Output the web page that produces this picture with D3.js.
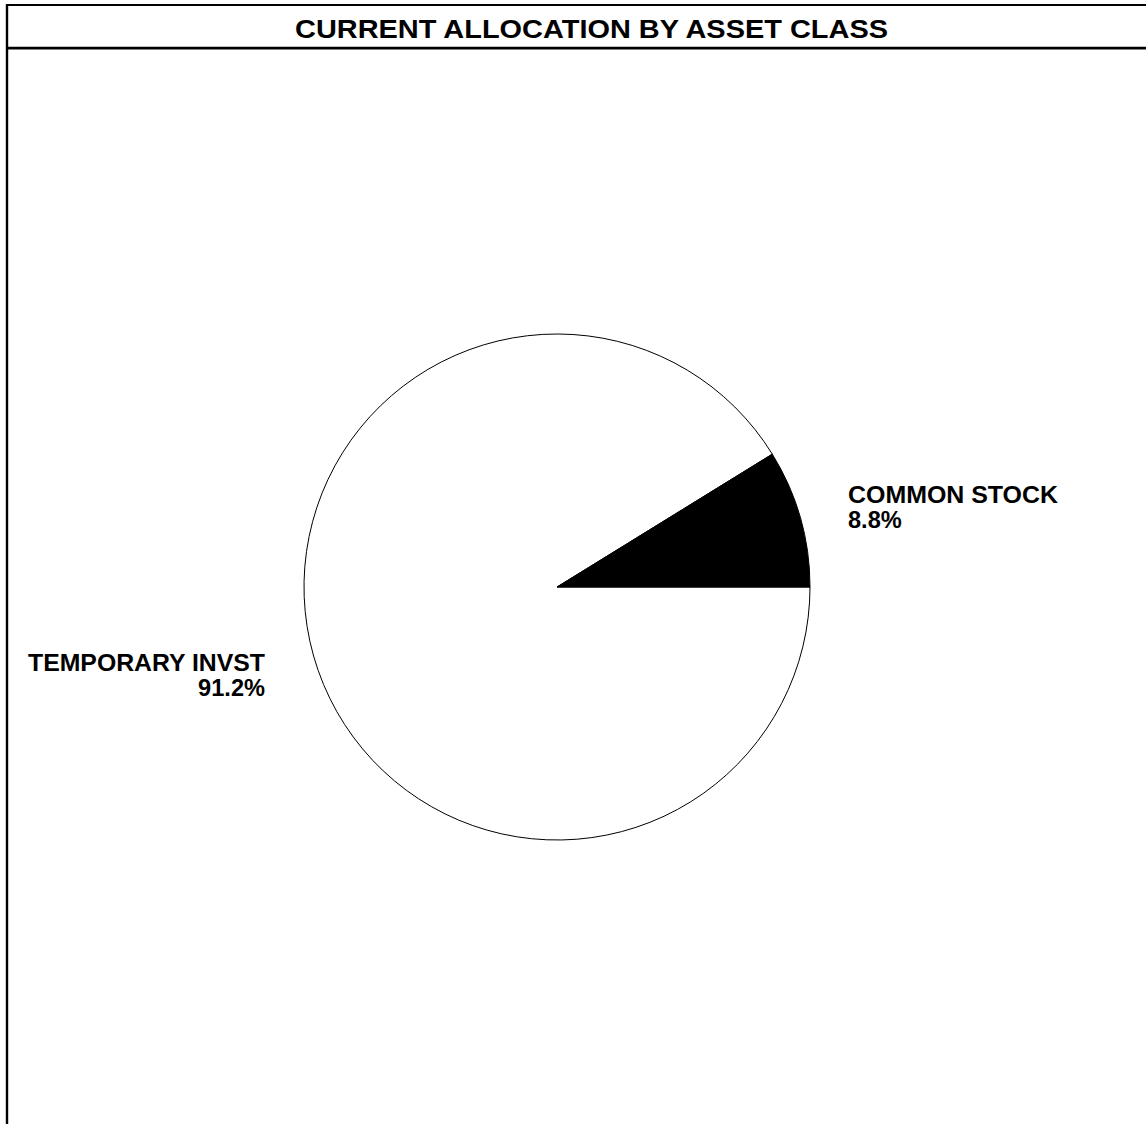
<!DOCTYPE html>
<meta charset="utf-8">
<html>
<head>
<style>
  body { margin: 0; background: #fff; }
  svg { display: block; }
  text { font-family: "Liberation Sans", Arial, sans-serif; font-weight: bold; fill: #000; }
</style>
</head>
<body>
<div id="chart"></div>

<script src="https://d3js.org/d3.v7.min.js"></script>
<script>
  // chart values
  var title = "CURRENT ALLOCATION BY ASSET CLASS";
  var categories = ["TEMPORARY INVST", "COMMON STOCK"];
  var shares = [91.2, 8.8];
  var fills = ["#ffffff", "#000000"];

  var width = 1146, height = 1124;
  var cx = 557, cy = 587, radius = 253;

  var svg = d3.select("#chart")
    .append("svg")
      .attr("width", width)
      .attr("height", height);

  // frame: top rule, title rule and left edge
  svg.append("line")
    .attr("x1", 6).attr("x2", width).attr("y1", 5).attr("y2", 5)
    .attr("stroke", "#000").attr("stroke-width", 2.2);
  svg.append("line")
    .attr("x1", 6).attr("x2", width).attr("y1", 48.2).attr("y2", 48.2)
    .attr("stroke", "#000").attr("stroke-width", 2.8);
  svg.append("line")
    .attr("x1", 7).attr("x2", 7).attr("y1", 4).attr("y2", height)
    .attr("stroke", "#000").attr("stroke-width", 2.4);

  svg.append("text")
    .attr("x", 591.5)
    .attr("y", 38.3)
    .attr("text-anchor", "middle")
    .attr("font-size", 25.6)
    .attr("textLength", 593)
    .attr("lengthAdjust", "spacingAndGlyphs")
    .text(title);

  var data = categories.map(function(c, i) {
    return { name: c, value: shares[i], fill: fills[i] };
  });

  // start at 3 o'clock and go clockwise, so the small slice ends up just above east
  var pie = d3.pie()
    .sort(null)
    .value(function(d) { return d.value; })
    .startAngle(Math.PI / 2)
    .endAngle(Math.PI / 2 + 2 * Math.PI);

  var arc = d3.arc().innerRadius(0).outerRadius(radius);

  var g = svg.append("g")
    .attr("transform", "translate(" + cx + "," + cy + ")");

  var arcs = pie(data);

  g.selectAll("path.slice")
    .data(arcs)
    .enter()
    .append("path")
      .attr("class", "slice")
      .attr("d", arc)
      .attr("fill", function(d) { return d.data.fill; })
      .attr("stroke", "#000")
      .attr("stroke-width", 1);

  // labels sit beside the pie, on the side of each slice's mid angle
  var fontSize = 23.6;
  var lblArc = d3.arc().innerRadius(308).outerRadius(308);
  arcs.forEach(function(d) {
    var mid = (d.startAngle + d.endAngle) / 2;
    var right = Math.sin(mid) > 0;
    var c = lblArc.centroid(d);
    var x = right ? radius + 38 : -radius - 39;
    var t = g.append("text")
      .attr("x", x)
      .attr("y", c[1])
      .attr("font-size", fontSize)
      .attr("text-anchor", right ? "start" : "end");
    t.append("tspan")
      .attr("x", x)
      .attr("textLength", right ? 210 : 237)
      .attr("lengthAdjust", "spacingAndGlyphs")
      .text(d.data.name);
    t.append("tspan")
      .attr("x", x)
      .attr("dy", 25)
      .text(d.data.value.toFixed(1) + "%");
  });
</script>
</body>
</html>
